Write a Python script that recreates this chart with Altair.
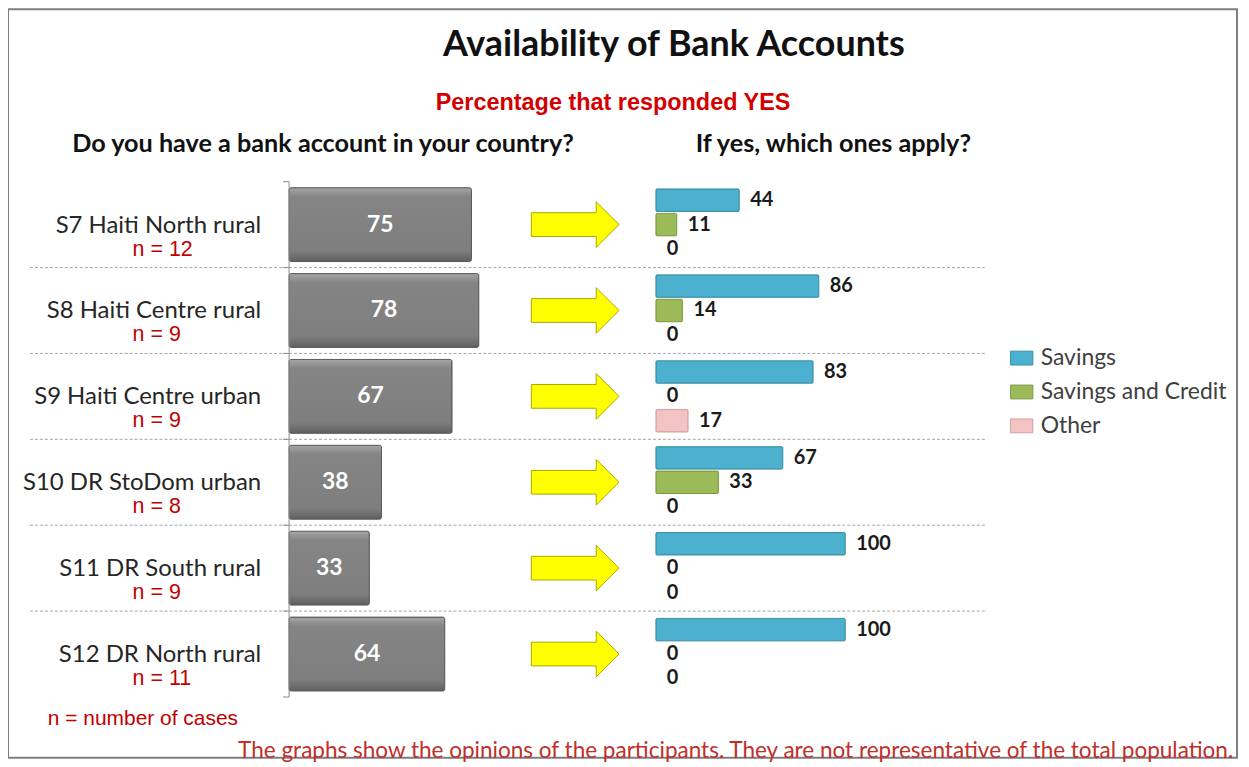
import altair as alt
import pandas as pd

# ---------------- data ----------------
sites = [
    "S7 Haiti North rural",
    "S8 Haiti Centre rural",
    "S9 Haiti Centre urban",
    "S10 DR StoDom urban",
    "S11 DR South rural",
    "S12 DR North rural",
]
n_cases = [12, 9, 9, 8, 9, 11]
has_account = [75, 78, 67, 38, 33, 64]

series = ["Savings", "Savings and Credit", "Other"]
savings = [44, 86, 83, 67, 100, 100]
savings_credit = [11, 14, 0, 33, 0, 0]
other = [0, 0, 17, 0, 0, 0]

title_text = "Availability of Bank Accounts"
subtitle_text = "Percentage that responded YES"
left_header = "Do you have a bank account in your country?"
right_header = "If yes, which ones apply?"
n_note = "n = number of cases"
footer_text = ("The graphs show the opinions of the participants.  "
               "They are not representative  of the total population.")

# ---------------- tables ----------------
left_df = pd.DataFrame({"site": sites, "yes": has_account})
left_df["n_label"] = ["n = %d" % v for v in n_cases]

rows = []
for i, s in enumerate(sites):
    for ser, vals in zip(series, [savings, savings_credit, other]):
        rows.append({"site": s, "series": ser, "value": vals[i]})
right_df = pd.DataFrame(rows)

sep_df = pd.DataFrame({"site": sites[1:]})

W, H = 1233, 751
CAL = "Lato, 'Open Sans', sans-serif"
ARIAL = "'Liberation Sans', Arial, sans-serif"

yscale = alt.Scale(domain=sites, range=[173, 690], paddingInner=0, paddingOuter=0)
Y = alt.Y("site:N", scale=yscale, axis=None)

xl_scale = alt.Scale(domain=[0, 100], range=[282, 526])
xr_scale = alt.Scale(domain=[0, 100], range=[650, 840])

gray_grad = alt.Gradient(
    gradient="linear",
    stops=[
        alt.GradientStop(color="#a6a6a6", offset=0),
        alt.GradientStop(color="#858585", offset=0.12),
        alt.GradientStop(color="#7e7e7e", offset=0.85),
        alt.GradientStop(color="#606060", offset=1),
    ],
    x1=0, x2=0, y1=0, y2=1,
)

# ---------------- left panel ----------------
base_left = alt.Chart(left_df)
bars_left = base_left.mark_bar(
    height=alt.RelativeBandSize(0.86), color=gray_grad, stroke="#5a5a5a",
    strokeWidth=1, cornerRadius=2,
).encode(x=alt.X("yes:Q", scale=xl_scale, axis=None), y=Y)

text_left = base_left.transform_calculate(mid="datum.yes / 2").mark_text(
    color="white", font=CAL, fontWeight="bold", fontSize=23, baseline="middle"
).encode(x=alt.X("mid:Q", scale=xl_scale, axis=None), y=Y, text="yes:Q")

axis_line = base_left.mark_rule(color="#8c8c8c", strokeWidth=1).encode(
    x=alt.datum(0), y=alt.value(173), y2=alt.value(690)
).transform_filter(alt.datum.site == sites[0])

left_layer = alt.layer(bars_left, text_left, axis_line)

# ---------------- right panel ----------------
base_right = alt.Chart(right_df)
yoff = alt.YOffset("series:N", sort=series,
                   scale=alt.Scale(domain=series, paddingInner=0.08, paddingOuter=0.3))
bars_right = base_right.transform_filter(alt.datum.value > 0).mark_bar(
    strokeWidth=1, cornerRadius=1
).encode(
    x=alt.X("value:Q", scale=xr_scale, axis=None),
    y=Y,
    yOffset=yoff,
    color=alt.Color(
        "series:N", sort=series,
        scale=alt.Scale(domain=series, range=["#4bb1cf", "#9bbb59", "#f4c4c4"]),
        legend=alt.Legend(
            orient="none", legendX=1005, legendY=338, title=None, padding=0,
            symbolType="M-1,-0.62L1,-0.62L1,0.62L-1,0.62Z", symbolSize=500,
            symbolStrokeWidth=1, symbolStrokeColor="#8aa0a8",
            labelFont=CAL, labelFontSize=23, labelColor="#404040", labelLimit=400,
            rowPadding=10, labelOffset=7,
        ),
    ),
    stroke=alt.Stroke(
        "series:N", sort=series,
        scale=alt.Scale(domain=series, range=["#3a8fa8", "#7d9a44", "#d4a0a0"]),
        legend=None,
    ),
)
text_right = base_right.mark_text(
    align="left", dx=11, baseline="middle", font=CAL, fontWeight="bold",
    fontSize=20, color="#1a1a1a",
).encode(
    x=alt.X("value:Q", scale=xr_scale, axis=None), y=Y, yOffset=yoff, text="value:Q"
)
right_layer = alt.layer(bars_right, text_right)

# ---------------- arrows, labels, separators ----------------
arrow_path = "M-1,-0.27L0.48,-0.27L0.48,-0.52L1,0L0.48,0.52L0.48,0.27L-1,0.27Z"
arrows = base_left.mark_point(
    shape=arrow_path, size=7744, filled=True, fill="#ffff00", stroke="#a8a800",
    strokeWidth=1, opacity=1,
).encode(x=alt.value(569), y=Y)

site_labels = base_left.mark_text(
    align="right", baseline="alphabetic", dy=8, font=CAL, fontSize=24, color="#262626"
).encode(x=alt.value(254), y=Y, text="site:N")

n_labels = base_left.mark_text(
    align="left", baseline="alphabetic", dy=31, font=ARIAL, fontSize=21.5, color="#c00000"
).encode(x=alt.value(125), y=Y, text="n_label:N")

separators = alt.Chart(sep_df).mark_rule(
    color="#a6a6a6", strokeWidth=1, strokeDash=[3, 2]
).encode(
    y=alt.Y("site:N", scale=yscale, axis=None, bandPosition=0),
    x=alt.value(22), x2=alt.value(982),
)

ticks_top = base_left.mark_rule(color="#8c8c8c", strokeWidth=1).encode(
    y=alt.Y("site:N", scale=yscale, axis=None, bandPosition=0),
    x=alt.value(276), x2=alt.value(282),
)
ticks_bottom = base_left.transform_filter(alt.datum.site == sites[-1]).mark_rule(
    color="#8c8c8c", strokeWidth=1
).encode(
    y=alt.Y("site:N", scale=yscale, axis=None, bandPosition=1),
    x=alt.value(276), x2=alt.value(282),
)

# ---------------- heading / note texts ----------------
def note(txt, x, y, **kw):
    return alt.Chart(pd.DataFrame({"t": [txt]})).mark_text(baseline="middle", **kw).encode(
        x=alt.value(x), y=alt.value(y), text="t:N"
    )

title_m = note(title_text, 668, 36, font=CAL, fontSize=36, fontWeight="bold", color="#111111")
subtitle_m = note(subtitle_text, 607, 94, font=ARIAL, fontSize=23.5, fontWeight="bold", color="#d40000")
lh = note(left_header, 316, 135, font=CAL, fontSize=25.3, fontWeight="bold", color="#111111")
rh = note(right_header, 828, 135, font=CAL, fontSize=25.3, fontWeight="bold", color="#111111")
nn = note(n_note, 40, 712, align="left", font=ARIAL, fontSize=21, color="#c00000")
ft = note(footer_text, 730, 744, font=CAL, fontSize=22.6, color="#c0302b")

chart = alt.layer(
    separators, ticks_top, ticks_bottom, left_layer, right_layer, arrows,
    site_labels, n_labels, title_m, subtitle_m, lh, rh, nn, ft,
).resolve_scale(x="independent").properties(
    width=W, height=H, padding=0, background="white"
).configure_view(stroke="#7f7f7f", strokeWidth=2)

chart.save("out.html", embed_options={"renderer": "svg", "actions": False})
